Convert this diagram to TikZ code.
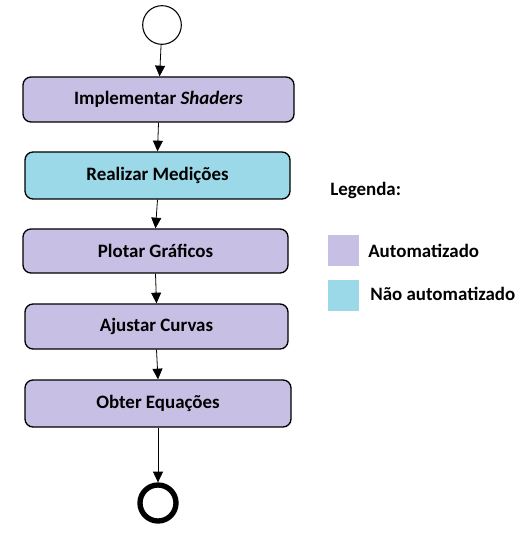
\documentclass[tikz,border=0pt]{standalone}
\usepackage{fontspec}
\setmainfont{Carlito}
\usetikzlibrary{arrows.meta}
\definecolor{lav}{HTML}{C8C0E4}
\definecolor{cyanish}{HTML}{9BD8E8}
\begin{document}
\begin{tikzpicture}[x=0.75pt,y=-0.75pt,
  stepbox/.style={draw=black,line width=1pt,rounded corners=6pt,inner sep=0pt,font=\fontsize{14.2}{16}\selectfont\bfseries},
  arr/.style={-{Triangle[length=8pt,width=7.5pt]},line width=0.6pt},
  legtext/.style={anchor=west,font=\fontsize{14.2}{16}\selectfont\bfseries,inner sep=0pt}]
\useasboundingbox (0,0) rectangle (525,541);
\node[circle,draw,line width=0.8pt,minimum size=29pt,inner sep=0pt] (start) at (162,25) {};
\node[stepbox,fill=lav,minimum width=271*0.75pt,minimum height=45*0.75pt] (b1) at (158.5,99.5) {Implementar \textit{Shaders}};
\node[stepbox,fill=cyanish,minimum width=265*0.75pt,minimum height=47*0.75pt] (b2) at (157.5,175.5) {Realizar Medições};
\node[stepbox,fill=lav,minimum width=265*0.75pt,minimum height=44*0.75pt] (b3) at (155.5,251) {Plotar Gráficos};
\node[stepbox,fill=lav,minimum width=263*0.75pt,minimum height=45*0.75pt] (b4) at (156.5,326.5) {Ajustar Curvas};
\node[stepbox,fill=lav,minimum width=266*0.75pt,minimum height=47*0.75pt] (b5) at (158,403.5) {Obter Equações};
\node[circle,draw,line width=4pt,minimum size=27pt,inner sep=0pt] (end) at (158,503) {};
\draw[arr] (start) -- (b1);
\draw[arr] (b1.south) -- (b2.north);
\draw[arr] (b2.south) -- (b3.north);
\draw[arr] (b3.south) -- (b4.north);
\draw[arr] (b4.south) -- (b5.north);
\draw[arr] (b5.south) -- (end.north);
\node[legtext] (leg) at (330,190) {Legenda:};
\node[fill=lav,minimum size=23pt,inner sep=0pt] (sq1) at (343.5,250.5) {};
\node[legtext] (l1) at (368,251) {Automatizado};
\node[fill=cyanish,minimum size=23pt,inner sep=0pt] (sq2) at (343.5,295.5) {};
\node[legtext] (l2) at (370,294) {Não automatizado};
\end{tikzpicture}
\end{document}
